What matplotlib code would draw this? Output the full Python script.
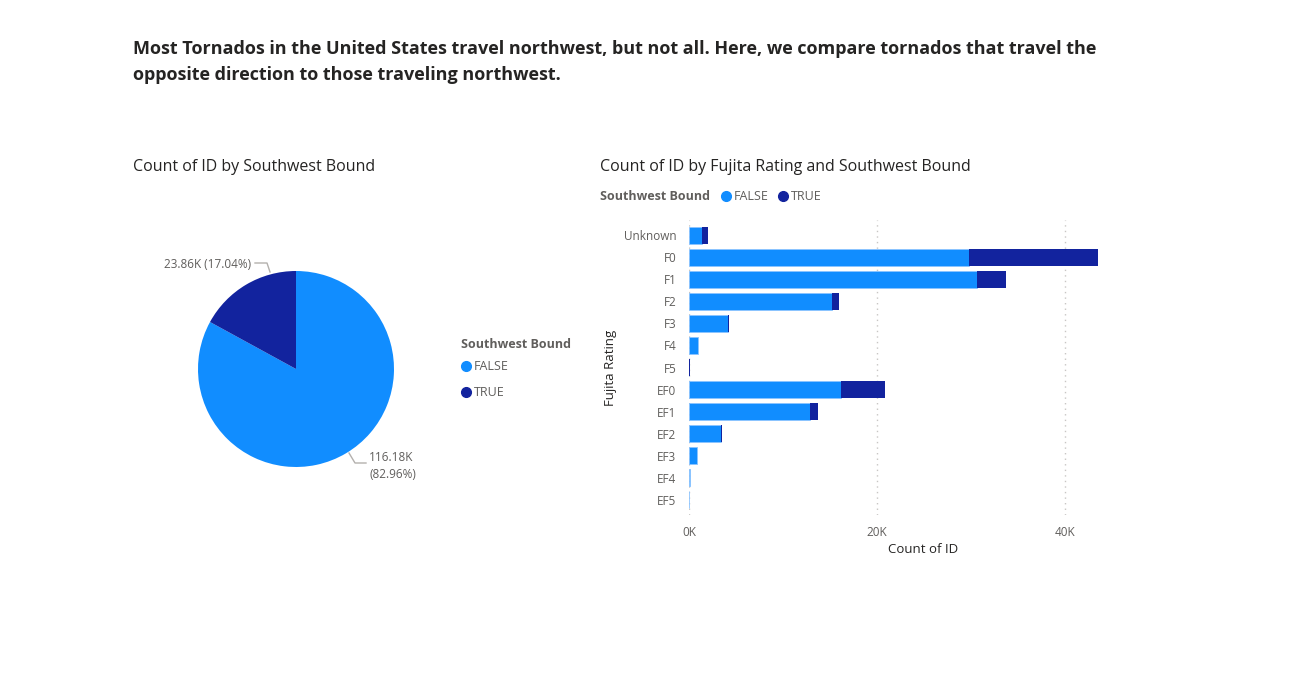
import numpy as np
import matplotlib.pyplot as plt

plt.rcParams['font.family'] = ['Open Sans', 'DejaVu Sans']

# Datos
pie_labels = ['FALSE', 'TRUE']
pie_values = [116180, 23860]

ratings = ['Unknown', 'F0', 'F1', 'F2', 'F3', 'F4', 'F5',
           'EF0', 'EF1', 'EF2', 'EF3', 'EF4', 'EF5']
count_false = np.array([1350, 29800, 30600, 15250, 4150, 920, 50,
                        16200, 12900, 3370, 820, 140, 10])
count_true = np.array([650, 13700, 3100, 650, 70, 15, 5,
                       4650, 850, 180, 20, 5, 2])
x_ticks = [0, 20000, 40000]
x_tick_labels = ['0K', '20K', '40K']

c_false = '#118DFF'
c_true = '#12239E'
dark = '#252423'
grey = '#605E5C'

fig = plt.figure(figsize=(13, 7), dpi=100)

fig.text(133/1300, 1-62/700,
         'Most Tornados in the United States travel northwest, but not all. Here, we compare tornados that travel the\n'
         'opposite direction to those traveling northwest.',
         fontsize=13, fontweight='bold', color=dark, va='center', ha='left', linespacing=1.6)

# --- pie ---
fig.text(133/1300, 1-167/700, 'Count of ID by Southwest Bound', fontsize=11.5, color=dark, va='center')
r_px = 98
half = 150
axp = fig.add_axes([(296-half)/1300, 1-(369+half)/700, 2*half/1300, 2*half/700])
axp.pie(pie_values, colors=[c_false, c_true], startangle=90, counterclock=False,
        radius=1, wedgeprops=dict(linewidth=0))
lim = half/r_px
axp.set_xlim(-lim, lim)
axp.set_ylim(-lim, lim)
axp.set_aspect('equal')
axp.axis('off')

def px(x, y):
    return ((x-296)/r_px, (369-y)/r_px)

total = sum(pie_values)
lbl_true = f'{pie_values[1]/1000:.2f}K ({pie_values[1]/total*100:.2f}%)'
lbl_false = f'{pie_values[0]/1000:.2f}K\n({pie_values[0]/total*100:.2f}%)'
xs, ys = zip(px(255, 263), px(267, 263), px(270, 272))
axp.plot(xs, ys, color='#B3B0AD', lw=1)
axp.text(*px(251, 264), lbl_true, ha='right', va='center', fontsize=8.5, color=grey)
xs, ys = zip(px(349, 453), px(355, 463), px(366, 463))
axp.plot(xs, ys, color='#B3B0AD', lw=1)
axp.text(*px(369, 466), lbl_false, ha='left', va='center', fontsize=8.5, color=grey, linespacing=1.35)

# leyenda del pie
fig.text(461/1300, 1-344/700, 'Southwest Bound', fontsize=9, fontweight='bold', color=grey, va='center')
for i, (lab, col) in enumerate(zip(pie_labels, [c_false, c_true])):
    y = 1-(366+26*i)/700
    fig.lines.append(plt.Line2D([466/1300], [y], marker='o', markersize=7, color=col,
                                transform=fig.transFigure, linestyle=''))
    fig.text(474/1300, y, lab, fontsize=9, color=grey, va='center')

# --- barras ---
fig.text(600/1300, 1-167/700, 'Count of ID by Fujita Rating and Southwest Bound', fontsize=11.5,
         color=dark, va='center')
fig.text(600/1300, 1-196/700, 'Southwest Bound', fontsize=9, fontweight='bold', color=grey, va='center')
leg_x = [726, 783]
for lab, col, lx in zip(pie_labels, [c_false, c_true], leg_x):
    fig.lines.append(plt.Line2D([lx/1300], [1-196/700], marker='o', markersize=7, color=col,
                                transform=fig.transFigure, linestyle=''))
    fig.text((lx+8)/1300, 1-196/700, lab, fontsize=9, color=grey, va='center')

axb = fig.add_axes([689/1300, 1-515/700, (1103-689)/1300, (515-220)/700])
yy = np.arange(len(ratings))
axb.barh(yy, count_false, height=0.77, color=c_false, edgecolor='#8CC4FF', linewidth=0.6, zorder=3)
axb.barh(yy, count_true, left=count_false, height=0.77, color=c_true, zorder=3)
axb.set_ylim(len(ratings)-0.5+0.2, -0.5-0.2)
axb.set_xlim(0, 44000)
axb.set_yticks(yy)
axb.set_yticklabels(ratings)
axb.set_xticks(x_ticks)
axb.set_xticklabels(x_tick_labels)
axb.tick_params(length=0, labelsize=8.5, labelcolor=grey, pad=9)
axb.tick_params(axis='x', pad=8)
for s in axb.spines.values():
    s.set_visible(False)
axb.grid(axis='x', linestyle=(0, (1, 3)), color='#C8C6C4', lw=1, zorder=0)
axb.set_xlabel('Count of ID', fontsize=9.5, color=dark)
axb.xaxis.set_label_coords((923-689)/414, -0.095)
axb.set_ylabel('Fujita Rating', fontsize=9.5, color=dark)
axb.yaxis.set_label_coords(-(689-617)/414, 0.5)

fig.savefig('out.png', dpi=100, facecolor='white')
